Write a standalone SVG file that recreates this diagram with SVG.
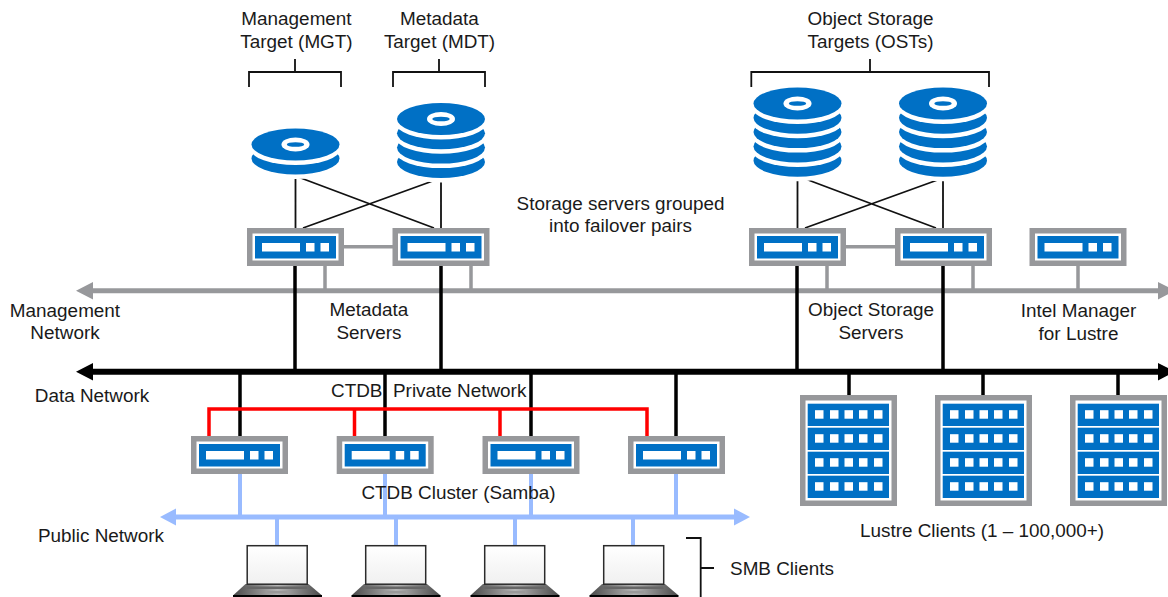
<svg xmlns="http://www.w3.org/2000/svg" width="1168" height="597" viewBox="0 0 1168 597">
<style>
text{font-family:"Liberation Sans",Arial,sans-serif;font-size:18.9px;fill:#1a1a1a;text-anchor:middle}
.s{text-anchor:start}
.t{stroke:#111;stroke-width:1.8;fill:none}
.g3{stroke:#97989b;stroke-width:3.5;fill:none}
.k{stroke:#000;stroke-width:3.5;fill:none}
.r{stroke:#f00;stroke-width:3.5;fill:none}
.b{stroke:#99bbff;stroke-width:4;fill:none}
.blue{fill:#0070c5}
.w{fill:#fff}
</style>
<defs>
<g id="server">
<rect x="2.75" y="2.75" width="91.5" height="32.5" fill="#fff" stroke="#97989b" stroke-width="5.5"/>
<rect class="blue" x="8" y="8" width="81" height="22.5"/>
<rect class="w" x="15" y="15" width="38" height="8.5"/>
<rect class="w" x="59" y="15" width="8.5" height="8.5"/>
<rect class="w" x="73.5" y="15" width="8.5" height="8.5"/>
</g>
<g id="row">
<rect class="blue" x="7.7" y="0" width="81.3" height="22.3"/>
<rect class="w" x="15" y="6.5" width="8.5" height="8.5"/>
<rect class="w" x="30" y="6.5" width="8.5" height="8.5"/>
<rect class="w" x="44.5" y="6.5" width="8.5" height="8.5"/>
<rect class="w" x="59" y="6.5" width="8.5" height="8.5"/>
<rect class="w" x="74" y="6.5" width="8.5" height="8.5"/>
</g>
<g id="rack">
<rect x="2.75" y="2.75" width="91.5" height="105.5" fill="#fff" stroke="#97989b" stroke-width="5.5"/>
<use href="#row" y="8.7"/><use href="#row" y="32.7"/><use href="#row" y="56.7"/><use href="#row" y="80.7"/>
</g>
<g id="platter">
<ellipse class="w" cx="0" cy="4.5" rx="45" ry="16"/>
<ellipse class="blue" cx="0" cy="0" rx="44" ry="16"/>
</g>
<g id="hole">
<ellipse class="w" cx="0" cy="0" rx="14" ry="6.9"/>
<ellipse class="blue" cx="0" cy="0" rx="8.7" ry="2.3"/>
</g>
<linearGradient id="scr" x1="0" y1="0" x2="0" y2="1"><stop offset="0" stop-color="#ffffff"/><stop offset="1" stop-color="#f0f0f0"/></linearGradient>
<linearGradient id="bs" x1="0" y1="0" x2="1" y2="0"><stop offset="0" stop-color="#4a4a4a"/><stop offset="0.5" stop-color="#b5b5b5"/><stop offset="1" stop-color="#4a4a4a"/></linearGradient>
<g id="laptop">
<path d="M-1 39H62L75 50H-13Z" fill="url(#bs)"/>
<rect x="0.7" y="0.7" width="60" height="38.5" fill="url(#scr)" stroke="#2b2b2b" stroke-width="1.5"/>
<path d="M1 41.5H60L61 44H0Z" fill="#666"/>
<rect x="20" y="46" width="21" height="2.5" fill="#999"/>
<rect x="-13.5" y="50" width="89" height="2" fill="#000"/>
</g>
</defs>

<g id="connectors">
<path class="t" d="M249 87V72H341V87M295 72V59M393 87V72H485V87M439 72V59M751.3 87V72H989V87M870 72V59"/>
<path class="t" d="M295.5 176V228M295.5 176L434 228M441 178V228M441 178L303 228"/>
<path class="t" d="M797.5 176V228M797.5 176L936 228M943 178V228M943 178L805 228"/>
<path class="t" d="M686 538H700.7V597M700.7 568H714"/>
<path class="g3" d="M344 246.7H393M846 246.7H895M325 266V291M471 266V291M827 266V291M973 266V291M1078 266V291"/>
<path stroke="#97989b" stroke-width="5" d="M90 290.7H1160" fill="none"/>
<path fill="#97989b" d="M76 290.7L93 282V299.4ZM1175 290.7L1158 282V299.4Z"/>
<path class="k" d="M295 266V371M441 266V371M797 266V371M943 266V371M240 371V436M385 371V436M531 371V436M676 371V436M849 371V395M983 371V395M1118 371V395"/>
<path stroke="#000" stroke-width="6" d="M90 371.7H1160" fill="none"/>
<path fill="#000" d="M76 371.7L93 363V380.4ZM1175 371.7L1158 363V380.4Z"/>
<path class="r" d="M209 436V409H647V436M354.5 409V436M500 409V436"/>
<path class="b" d="M240 474V517M385 474V517M531 474V517M676 474V517M277 517V545M396 517V545M515 517V545M633 517V545"/>
<path stroke="#99bbff" stroke-width="5" d="M172 517H738" fill="none"/>
<path fill="#99bbff" d="M160 517L176 508.5V525.5ZM750 517L734 508.5V525.5Z"/>
</g>

<g id="mgt-disk" transform="translate(295.5,144.5)"><use href="#platter" y="14"/><use href="#platter"/><use href="#hole"/></g>
<g id="mdt-disk" transform="translate(441,119)"><use href="#platter" y="43"/><use href="#platter" y="28.6"/><use href="#platter" y="14.3"/><use href="#platter"/><use href="#hole"/></g>
<g id="ost-disk-1" transform="translate(797.5,103.5)"><use href="#platter" y="57.2"/><use href="#platter" y="42.9"/><use href="#platter" y="28.6"/><use href="#platter" y="14.3"/><use href="#platter"/><use href="#hole"/></g>
<g id="ost-disk-2" transform="translate(943,103.5)"><use href="#platter" y="57.2"/><use href="#platter" y="42.9"/><use href="#platter" y="28.6"/><use href="#platter" y="14.3"/><use href="#platter"/><use href="#hole"/></g>

<g id="mds-1"><use href="#server" x="247" y="228"/></g>
<g id="mds-2"><use href="#server" x="392.5" y="228"/></g>
<g id="oss-1"><use href="#server" x="749" y="228"/></g>
<g id="oss-2"><use href="#server" x="895" y="228"/></g>
<g id="iml"><use href="#server" x="1029.5" y="228"/></g>
<g id="ctdb-1"><use href="#server" x="191" y="436"/></g>
<g id="ctdb-2"><use href="#server" x="336.7" y="436"/></g>
<g id="ctdb-3"><use href="#server" x="482.5" y="436"/></g>
<g id="ctdb-4"><use href="#server" x="628" y="436"/></g>
<g id="client-1"><use href="#rack" x="800" y="395"/></g>
<g id="client-2"><use href="#rack" x="935" y="395"/></g>
<g id="client-3"><use href="#rack" x="1070" y="395"/></g>
<g id="smb-1"><use href="#laptop" x="246.5" y="545"/></g>
<g id="smb-2"><use href="#laptop" x="365" y="545"/></g>
<g id="smb-3"><use href="#laptop" x="484" y="545"/></g>
<g id="smb-4"><use href="#laptop" x="603" y="545"/></g>

<g id="labels">
<text x="296.5" y="25">Management</text><text x="296.5" y="48">Target (MGT)</text>
<text x="439.5" y="25">Metadata</text><text x="439.5" y="48">Target (MDT)</text>
<text x="870.5" y="25">Object Storage</text><text x="870.5" y="48">Targets (OSTs)</text>
<text x="620.5" y="210">Storage servers grouped</text><text x="620.5" y="232">into failover pairs</text>
<text x="65" y="317">Management</text><text x="65" y="339">Network</text>
<text x="369" y="316">Metadata</text><text x="369" y="339">Servers</text>
<text x="871" y="316">Object Storage</text><text x="871" y="339">Servers</text>
<text x="1078.5" y="317">Intel Manager</text><text x="1078.5" y="340">for Lustre</text>
<text x="92" y="402">Data Network</text>
<text class="s" y="397"><tspan x="331">CTDB</tspan><tspan x="393">Private Network</tspan></text>
<text x="458.5" y="499">CTDB Cluster (Samba)</text>
<text x="101" y="542">Public Network</text>
<text x="982" y="536.5">Lustre Clients (1 – 100,000+)</text>
<text x="782" y="575">SMB Clients</text>
</g>
</svg>
